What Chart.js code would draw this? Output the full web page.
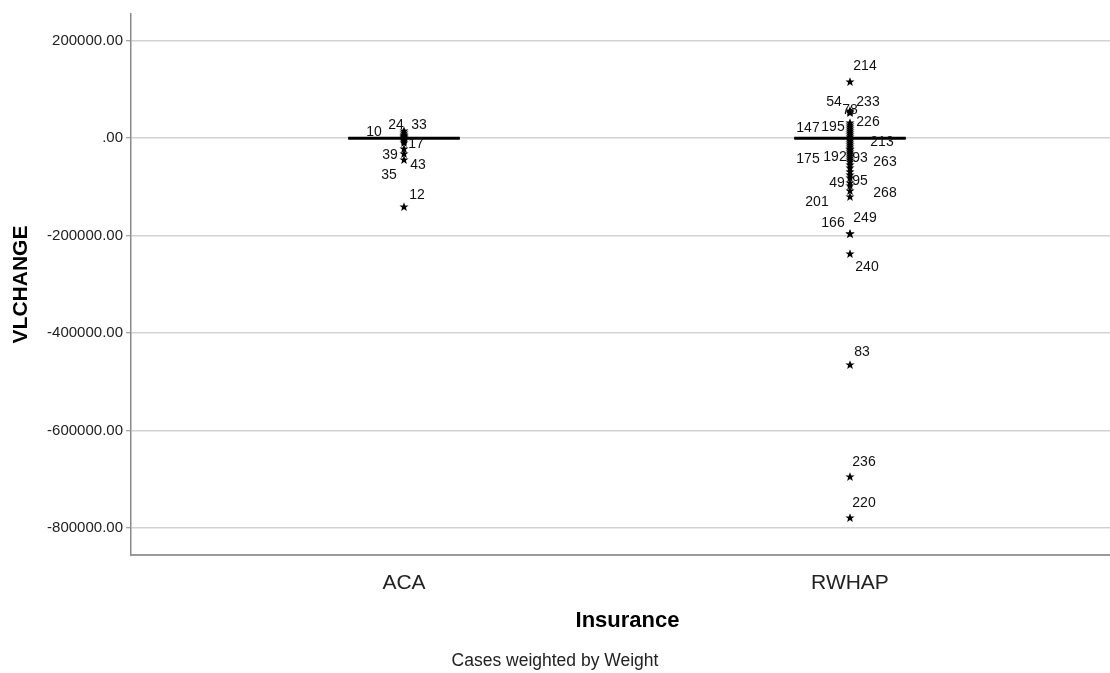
<!DOCTYPE html>
<html><head><meta charset="utf-8">
<script src="https://cdn.jsdelivr.net/npm/chart.js@4.4.1/dist/chart.umd.min.js"></script>
<style>html,body{margin:0;padding:0;background:#fff;overflow:hidden}#wrap{width:1110px;height:673px}</style>
</head><body><div id="wrap"><canvas id="c" width="1110" height="673"></canvas></div>
<script>
// ---------- data ----------
const categories = ['ACA', 'RWHAP'];
const medians = [0, 0];
const q1Values = [0, 0];
const q3Values = [0, 0];
const whiskerLow = [0, 0];
const whiskerHigh = [0, 0];
const yTickValues = [200000, 0, -200000, -400000, -600000, -800000];

const acaOutlierIds = ['24', '33', '10', '17', '39', '43', '35', '12'];
const acaOutlierValues = [14800, 10700, 6600, -9800, -22200, -32400, -44700, -141300];
const acaUnlabeledValues = [4500, 2500, 500, -1600, -3600, -5700];

const rwhapOutlierIds = ['214', '54', '78', '233', '226', '195', '147', '213', '192', '93', '175', '263', '95', '49', '268', '201', '166', '249', '240', '83', '236', '220'];
const rwhapOutlierValues = [115300, 53800, 51700, 55800, 27100, 23000, 18900, -5700, -24200, -28300, -32400, -36500, -81600, -97700, -108300, -120600, -196600, -196600, -237700, -465400, -695200, -779400];
const rwhapUnlabeledValues = [31200, 14800, 10700, 6600, 2500, -1600, -9800, -14000, -18100, -22200, -40600, -44700, -48800, -55000, -61200, -69400, -75500, -91900];

// label placement relative to each star (pixels) - layout only
const acaLabelOffsets = [[-8, -6], [15, -8], [-30, -3], [12, 1], [-14, 6], [14, 11], [-15, 15], [13, -12]];
const rwhapLabelOffsets = [[15, -16], [-16, -10], [0, -3], [18, -9], [18, -3], [-17, 0], [-42, -1], [32, 1], [-15, 7], [10, 6], [-42, 5], [35, 6], [10, 3], [-13, -3], [35, 2], [-33, 5], [-17, -11], [15, -16], [17, 13], [12, -13], [14, -15], [14, -15]];

const xAxisTitle = 'Insurance';

// ---------- styling ----------
const FONT = '"Liberation Sans", Arial, sans-serif';
const BOX_HALF = 0.125;

function makeStar() {
  const c = document.createElement('canvas');
  c.width = 10; c.height = 10;
  const g = c.getContext('2d');
  g.fillStyle = '#000';
  g.beginPath();
  for (let i = 0; i < 10; i++) {
    const r = i % 2 === 0 ? 4.8 : 2.0;
    const a = -Math.PI / 2 + i * Math.PI / 5;
    const px = 5 + r * Math.cos(a), py = 5 + r * Math.sin(a);
    if (i === 0) g.moveTo(px, py); else g.lineTo(px, py);
  }
  g.closePath();
  g.fill();
  return c;
}
const star = makeStar();

function pts(groupIndex, values) {
  return values.map(v => ({ x: groupIndex + 1, y: v }));
}
function starSet(data, ids, offsets) {
  return {
    data, ids, offsets,
    pointStyle: star, radius: 5, showLine: false,
    backgroundColor: '#000', borderColor: '#000'
  };
}

const boxPlugin = {
  id: 'boxes',
  beforeDatasetsDraw(chart) {
    const ctx = chart.ctx, xs = chart.scales.x, ys = chart.scales.y;
    ctx.save();
    categories.forEach((cat, i) => {
      const cx = xs.getPixelForValue(i + 1);
      const left = xs.getPixelForValue(i + 1 - BOX_HALF);
      const right = xs.getPixelForValue(i + 1 + BOX_HALF);
      const capL = xs.getPixelForValue(i + 1 - BOX_HALF / 2);
      const capR = xs.getPixelForValue(i + 1 + BOX_HALF / 2);
      const yq1 = ys.getPixelForValue(q1Values[i]);
      const yq3 = ys.getPixelForValue(q3Values[i]);
      const ylo = ys.getPixelForValue(whiskerLow[i]);
      const yhi = ys.getPixelForValue(whiskerHigh[i]);
      const ymed = ys.getPixelForValue(medians[i]);
      ctx.strokeStyle = '#000';
      ctx.lineWidth = 1;
      ctx.beginPath();
      ctx.moveTo(cx, yq3); ctx.lineTo(cx, yhi);
      ctx.moveTo(cx, yq1); ctx.lineTo(cx, ylo);
      ctx.moveTo(capL, yhi); ctx.lineTo(capR, yhi);
      ctx.moveTo(capL, ylo); ctx.lineTo(capR, ylo);
      ctx.stroke();
      ctx.strokeRect(left, yq3, right - left, yq1 - yq3);
      ctx.lineWidth = 3;
      ctx.beginPath();
      ctx.moveTo(left, ymed); ctx.lineTo(right, ymed);
      ctx.stroke();
    });
    ctx.restore();
  }
};

const labelPlugin = {
  id: 'outlierLabels',
  afterDatasetsDraw(chart) {
    const ctx = chart.ctx;
    ctx.save();
    ctx.font = '14px ' + FONT;
    ctx.fillStyle = '#111';
    ctx.textAlign = 'center';
    ctx.textBaseline = 'middle';
    chart.data.datasets.forEach((ds, di) => {
      if (!ds.ids) return;
      const meta = chart.getDatasetMeta(di);
      meta.data.forEach((el, j) => {
        const off = ds.offsets[j];
        ctx.fillText(ds.ids[j], el.x + off[0], el.y + off[1]);
      });
    });
    ctx.restore();
  }
};

// x-axis title drawn slightly right of the plot centre, as in the reference
const xTitlePlugin = {
  id: 'xTitle',
  afterDraw(chart) {
    const ctx = chart.ctx, xs = chart.scales.x, ca = chart.chartArea;
    ctx.save();
    ctx.font = 'bold 22px ' + FONT;
    ctx.fillStyle = '#000';
    ctx.textAlign = 'center';
    ctx.textBaseline = 'middle';
    ctx.fillText(xAxisTitle, (ca.left + ca.right) / 2 + 7, xs.bottom - 12);
    ctx.restore();
  }
};

new Chart(document.getElementById('c'), {
  type: 'scatter',
  data: {
    datasets: [
      starSet(pts(0, acaUnlabeledValues)),
      starSet(pts(0, acaOutlierValues), acaOutlierIds, acaLabelOffsets),
      starSet(pts(1, rwhapUnlabeledValues)),
      starSet(pts(1, rwhapOutlierValues), rwhapOutlierIds, rwhapLabelOffsets)
    ]
  },
  options: {
    responsive: false,
    animation: false,
    devicePixelRatio: 1,
    events: [],
    layout: { autoPadding: false, padding: { top: 14, left: 0, right: 0, bottom: 0 } },
    plugins: {
      legend: { display: false },
      tooltip: { enabled: false },
      title: {
        display: true,
        position: 'bottom',
        text: 'Cases weighted by Weight',
        color: '#222',
        font: { family: FONT, size: 17.5, weight: 'normal' },
        padding: { top: 17.5, bottom: 1.5 }
      }
    },
    scales: {
      x: {
        type: 'linear',
        min: 0.3879,
        max: 2.583,
        afterBuildTicks: s => { s.ticks = categories.map((c, i) => ({ value: i + 1 })); },
        afterFit: s => { s.height = 78; },
        ticks: {
          callback: v => categories[v - 1] ?? '',
          color: '#222',
          font: { family: FONT, size: 21 },
          padding: 8,
          maxRotation: 0,
          autoSkip: false
        },
        grid: { display: false },
        border: { display: true, color: '#9a9a9a', width: 2 },
        title: { display: false }
      },
      y: {
        type: 'linear',
        min: -855400,
        max: 254800,
        afterBuildTicks: s => { s.ticks = yTickValues.map(v => ({ value: v })); },
        afterFit: s => { s.width = 131; },
        ticks: {
          callback: v => (v === 0 ? '.00' : Number(v).toFixed(2)),
          color: '#222',
          font: { family: FONT, size: 15 },
          padding: 3
        },
        grid: { color: '#d2d2d2', lineWidth: 1.5, tickLength: 5, tickColor: '#8a8a8a', tickWidth: 1 },
        border: { display: true, color: '#8a8a8a', width: 1.5 },
        title: {
          display: true,
          text: 'VLCHANGE',
          color: '#000',
          font: { family: FONT, size: 21, weight: 'bold' },
          padding: { top: 9, bottom: 0 }
        }
      }
    }
  },
  plugins: [boxPlugin, labelPlugin, xTitlePlugin]
});
</script>
</body></html>
